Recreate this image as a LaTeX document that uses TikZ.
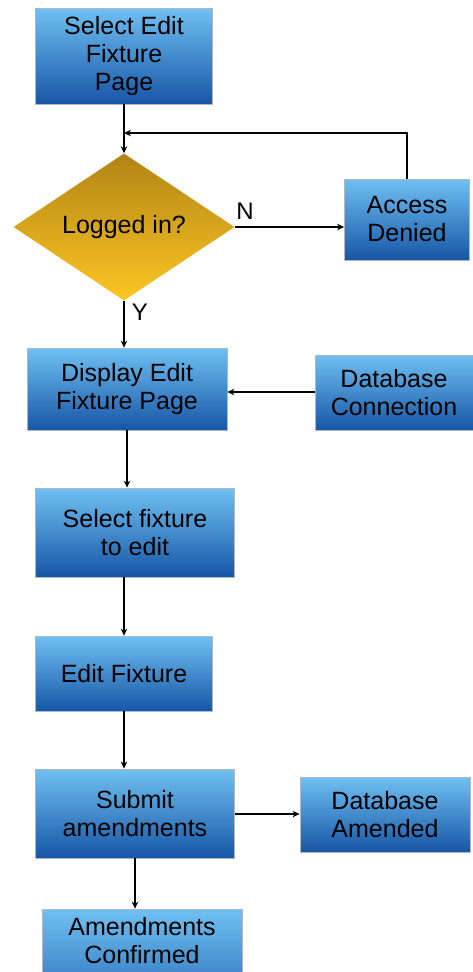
\documentclass[tikz,border=0pt]{standalone}
\usepackage{fontspec}
\setmainfont{Liberation Sans}
\usepackage{xcolor}
\usepackage{tikz}
\usetikzlibrary{arrows.meta,positioning,shapes.geometric,calc}
\definecolor{boxtop}{RGB}{112,192,242}
\definecolor{boxbot}{RGB}{22,86,166}
\definecolor{decitop}{RGB}{178,132,20}
\definecolor{decibot}{RGB}{252,198,36}
\definecolor{edgegray}{RGB}{175,185,195}

\begin{document}
\begin{tikzpicture}[
    x=1pt, y=-1pt,
    >=Stealth,
    procbox/.style={draw=edgegray, line width=0.8pt, top color=boxtop, bottom color=boxbot,
        minimum width=#1, align=center, inner sep=2pt,
        font=\fontsize{25}{28}\selectfont},
    decision/.style={diamond, draw=none, top color=decitop, bottom color=decibot,
        minimum width=221pt, minimum height=139pt, inner sep=0pt,
        font=\fontsize{25}{28}\selectfont},
    arrw/.style={-{Stealth[length=7pt,width=6.5pt]}, black, line width=1.8pt},
    yn/.style={font=\fontsize{24}{26}\selectfont},
]
\clip (0,0) rectangle (473,972);

% === MAIN COLUMN ===
\node[procbox=177pt, minimum height=96pt] (sel) at (124,56) {Select Edit\\Fixture\\Page};
\node[decision] (logged) at (124,227) {Logged in?};
\node[procbox=200pt, minimum height=82pt] (disp) at (127,389) {Display Edit\\Fixture Page};
\node[procbox=199pt, minimum height=89pt] (selfix) at (135,532.5) {Select fixture\\to edit};
\node[procbox=177pt, minimum height=75pt] (edit) at (124,673.5) {Edit Fixture};
\node[procbox=199pt, minimum height=89pt] (submit) at (135,813.5) {Submit\\amendments};
\node[procbox=200pt, minimum height=126pt] (confirm) at (142,972) {};
\node (conftxt) at (142,940.5) [align=center, font=\fontsize{25}{28}\selectfont] {Amendments\\Confirmed};

% === SIDE BOXES ===
\node[procbox=125pt, minimum height=81pt] (denied) at (407,219.5) {Access\\Denied};
\node[procbox=158pt, minimum height=75pt] (dbconn) at (394,392.5) {Database\\Connection};
\node[procbox=170pt, minimum height=75pt] (dbamend) at (385,814.5) {Database\\Amended};

% === ARROWS ===
\coordinate (join) at (124,133);
\draw[arrw] (sel.south) -- (logged.north);
\draw[arrw] (logged.east) -- (logged.east -| denied.west);
\draw[arrw] (denied.north) |- (join);
\draw[arrw] (logged.south) -- (logged.south |- disp.north);
\draw[arrw] (dbconn.west |- 0,392) -- (disp.east |- 0,392);
\draw[arrw] (disp.south) -- (disp.south |- selfix.north);
\draw[arrw] (edit.north |- selfix.south) -- (edit.north);
\draw[arrw] (edit.south) -- (edit.south |- submit.north);
\draw[arrw] (submit.east |- 0,814) -- (dbamend.west |- 0,814);
\draw[arrw] (submit.south) -- (submit.south |- confirm.north);

% === BRANCH LABELS ===
\node[yn] (nlbl) at (245,211) {N};
\node[yn] (ylbl) at (140,312) {Y};

\end{tikzpicture}
\end{document}
